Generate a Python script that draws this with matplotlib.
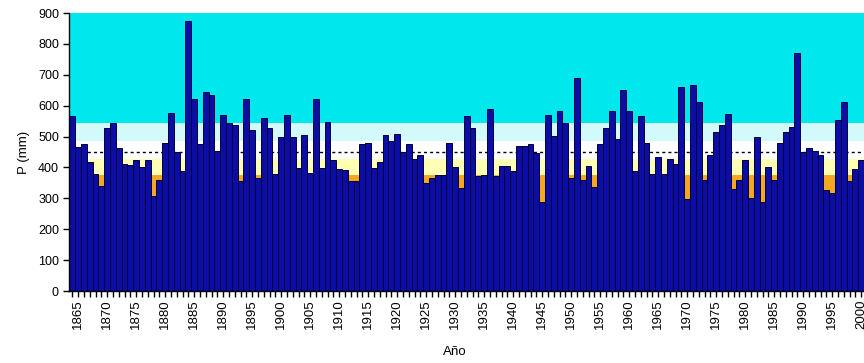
import matplotlib
matplotlib.use("Agg")
import matplotlib.pyplot as plt
from matplotlib.ticker import MultipleLocator

plt.rcParams['font.family'] = ['Liberation Sans', 'DejaVu Sans']

years = list(range(1864, 2001))
precip = [
    567, 465, 475, 417, 379, 339, 527, 543, 464, 412,   # 1864-1873
    407, 424, 402, 424, 309, 361, 480, 575, 450, 390,   # 1874-1883
    873, 623, 475, 645, 635, 453, 570, 545, 537, 355,   # 1884-1893
    623, 520, 366, 561, 527, 379, 498, 571, 498, 399,   # 1894-1903
    504, 382, 623, 399, 548, 424, 395, 391, 355, 355,   # 1904-1913
    475, 480, 399, 417, 504, 485, 507, 450, 475, 428,   # 1914-1923
    439, 350, 366, 377, 377, 480, 401, 332, 567, 527,   # 1924-1933
    372, 377, 590, 372, 406, 406, 388, 469, 469, 475,   # 1934-1943
    447, 287, 570, 502, 583, 545, 366, 691, 361, 406,   # 1944-1953
    337, 475, 527, 583, 491, 651, 583, 388, 567, 480,   # 1954-1963
    379, 434, 379, 426, 412, 662, 298, 666, 612, 361,   # 1964-1973
    440, 515, 537, 572, 330, 359, 423, 301, 498, 287,   # 1974-1983
    401, 361, 480, 515, 532, 772, 450, 462, 453, 440,   # 1984-1993
    328, 317, 554, 612, 355, 395, 424,                  # 1994-2000
]
mean_p = 450
# class thresholds (mm) for the background bands
band_edges = [0, 377, 426, 485, 545, 900]
band_colors = ['#F5A623', '#FFFFB4', '#FFFFFF', '#D2FAFA', '#00E8EE']
tick_years = list(range(1865, 2001, 5))
y_ticks = list(range(0, 901, 100))

fig = plt.figure(figsize=(8.64, 3.63), dpi=100)
ax = fig.add_axes([0.0795, 0.1983, 0.9508, 0.7658])

for lo, hi, c in zip(band_edges[:-1], band_edges[1:], band_colors):
    ax.axhspan(lo, hi, color=c, zorder=0, lw=0)

ax.axhline(mean_p, color='black', ls=(0, (2.2, 2.2)), lw=1.0, zorder=1)

ax.bar(years, precip, width=1.0, color='#0C0CA6', edgecolor='#000033',
       linewidth=0.7, zorder=2)

ax.set_xlim(1863.36, 2005)
ax.set_ylim(0, 900)
ax.set_yticks(y_ticks)
ax.set_xticks(tick_years)
ax.set_xticklabels([str(y) for y in tick_years], rotation=90, fontsize=9.5)
ax.xaxis.set_minor_locator(MultipleLocator(1))
ax.tick_params(axis='x', which='both', length=4, width=1, direction='out', pad=2)
ax.tick_params(axis='y', length=4, width=1, direction='out', labelsize=9, pad=3)

for s in ['top', 'right']:
    ax.spines[s].set_visible(False)
for s in ['left', 'bottom']:
    ax.spines[s].set_linewidth(1.0)
    ax.spines[s].set_color('black')

ax.set_ylabel('P (mm)', fontsize=9.5, labelpad=6)
fig.text(455 / 864, 1 - 352 / 363, 'Año', ha='center', va='center', fontsize=9.5)

fig.savefig('out.png', dpi=100)
